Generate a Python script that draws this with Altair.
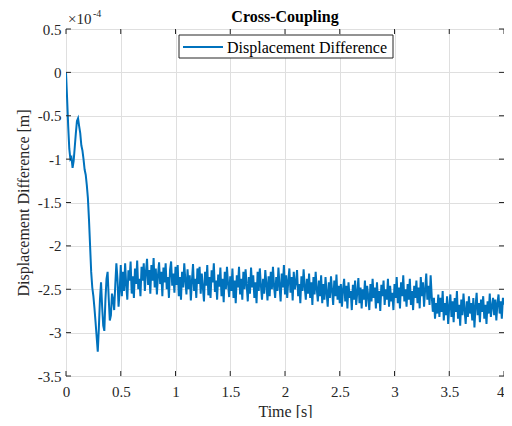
import altair as alt
import pandas as pd

series_name = "Displacement Difference"
x_ticks = [0, 0.5, 1, 1.5, 2, 2.5, 3, 3.5, 4]
y_ticks = [-3.5, -3, -2.5, -2, -1.5, -1, -0.5, 0, 0.5]
dt = 0.01

# displacement difference in units of 1e-4 m, sampled every 0.01 s from t = 0
values = [
    0.00,
    -0.30, -0.62, -0.88, -1.00, -0.98, -1.10, -1.02, -0.86, -0.70, -0.56,
    -0.53, -0.62, -0.70, -0.84, -0.90, -1.00, -1.12, -1.18, -1.30, -1.45,
    -1.70, -2.00, -2.30, -2.48, -2.58, -2.72, -2.88, -3.05, -3.22, -2.95,
    -2.62, -2.42, -2.70, -2.92, -2.98, -2.62, -2.38, -2.30, -2.60, -2.86,
    -2.80, -2.55, -2.62, -2.74, -2.45, -2.20, -2.38, -2.70, -2.52, -2.22,
    -2.58, -2.30, -2.52, -2.20, -2.45, -2.62, -2.28, -2.40, -2.18, -2.55,
    -2.35, -2.60, -2.26, -2.44, -2.17, -2.50, -2.38, -2.58, -2.24, -2.40,
    -2.20, -2.52, -2.30, -2.15, -2.45, -2.28, -2.55, -2.22, -2.40, -2.14,
    -2.48, -2.26, -2.56, -2.34, -2.19, -2.44, -2.30, -2.58, -2.25, -2.42,
    -2.20, -2.50, -2.36, -2.60, -2.28, -2.18, -2.46, -2.32, -2.54, -2.24,
    -2.45, -2.22, -2.58, -2.36, -2.62, -2.30, -2.48, -2.20, -2.40, -2.56,
    -2.27, -2.50, -2.34, -2.63, -2.40, -2.21, -2.52, -2.38, -2.60, -2.26,
    -2.44, -2.24, -2.55, -2.32, -2.48, -2.64, -2.30, -2.46, -2.22, -2.57,
    -2.36, -2.60, -2.28, -2.42, -2.20, -2.53, -2.40, -2.62, -2.33, -2.47,
    -2.25, -2.58, -2.38, -2.65, -2.30, -2.50, -2.24, -2.44, -2.59, -2.35,
    -2.52, -2.26, -2.60, -2.40, -2.66, -2.34, -2.48, -2.24, -2.56, -2.38,
    -2.62, -2.30, -2.50, -2.27, -2.45, -2.64, -2.36, -2.55, -2.25, -2.48,
    -2.34, -2.60, -2.42, -2.66, -2.30, -2.52, -2.26, -2.46, -2.62, -2.38,
    -2.55, -2.28, -2.44, -2.63, -2.35, -2.58, -2.30, -2.50, -2.24, -2.47,
    -2.60, -2.36, -2.52, -2.25, -2.46, -2.64, -2.32, -2.48, -2.22, -2.56,
    -2.34, -2.60, -2.40, -2.26, -2.54, -2.36, -2.63, -2.30, -2.50, -2.42,
    -2.28, -2.58, -2.44, -2.66, -2.35, -2.52, -2.27, -2.47, -2.62, -2.38,
    -2.55, -2.32, -2.60, -2.42, -2.68, -2.36, -2.56, -2.30, -2.50, -2.64,
    -2.40, -2.58, -2.34, -2.66, -2.44, -2.62, -2.36, -2.54, -2.70, -2.42,
    -2.60, -2.35, -2.52, -2.68, -2.40, -2.58, -2.33, -2.62, -2.46, -2.66,
    -2.44, -2.70, -2.50, -2.38, -2.64, -2.46, -2.72, -2.42, -2.60, -2.52,
    -2.74, -2.45, -2.62, -2.40, -2.68, -2.54, -2.37, -2.66, -2.48, -2.72,
    -2.50, -2.62, -2.40, -2.70, -2.46, -2.58, -2.74, -2.44, -2.64, -2.38,
    -2.60, -2.48, -2.72, -2.42, -2.66, -2.52, -2.75, -2.45, -2.58, -2.40,
    -2.68, -2.50, -2.62, -2.38, -2.70, -2.46, -2.64, -2.54, -2.74, -2.44,
    -2.60, -2.36, -2.66, -2.48, -2.72, -2.42, -2.58, -2.34, -2.64, -2.50,
    -2.70, -2.44, -2.62, -2.38, -2.68, -2.52, -2.74, -2.46, -2.60, -2.40,
    -2.66, -2.48, -2.72, -2.36, -2.58, -2.42, -2.70, -2.50, -2.32, -2.62,
    -2.46, -2.68, -2.34, -2.58, -2.76, -2.60, -2.84, -2.66, -2.78, -2.56,
    -2.82, -2.60, -2.76, -2.52, -2.86, -2.66, -2.80, -2.58, -2.90, -2.70,
    -2.56, -2.82, -2.64, -2.88, -2.60, -2.76, -2.52, -2.84, -2.68, -2.92,
    -2.62, -2.80, -2.55, -2.74, -2.90, -2.64, -2.82, -2.58, -2.78, -2.66,
    -2.86, -2.60, -2.94, -2.70, -2.54, -2.80, -2.66, -2.88, -2.62, -2.76,
    -2.58, -2.84, -2.68, -2.90, -2.64, -2.78, -2.55, -2.82, -2.70, -2.60,
    -2.80, -2.62, -2.86, -2.66, -2.56, -2.78, -2.64, -2.84, -2.60, -2.68,
]
time = [round(i * dt, 2) for i in range(len(values))]

df = pd.DataFrame({"time": time, "value": values, "series": series_name})
xt = pd.DataFrame({"t": x_ticks})
yt = pd.DataFrame({"v": y_ticks})
one = pd.DataFrame({"k": [0]})

W, H = 438, 347
FONT = "Liberation Serif"
INK = "#262626"
BLUE = "#0072BD"

xscale = alt.Scale(domain=[0, 4], nice=False, zero=False)
yscale = alt.Scale(domain=[-3.5, 0.5], nice=False, zero=False)

common_axis = dict(
    grid=True, gridColor="#dfdfdf", gridWidth=1, domain=False, ticks=False,
    labelFont=FONT, labelFontSize=15, labelColor=INK, labelOverlap=False,
    labelFlush=False, labelExpr="datum.value + ''",
    titleFont=FONT, titleFontSize=16, titleFontWeight="normal", titleColor=INK,
)
x_axis = alt.Axis(
    values=x_ticks, title="Time [s]", labelPadding=8, titlePadding=4,
    labelAlign={"condition": {"test": "datum.value == 4", "value": "right"}, "value": "center"},
    **common_axis,
)
y_axis = alt.Axis(values=y_ticks, title="Displacement Difference [m]", labelPadding=5, titlePadding=6, **common_axis)

line = alt.Chart(df).mark_line(strokeWidth=2, color=BLUE, clip=True).encode(
    x=alt.X("time:Q", scale=xscale, axis=x_axis),
    y=alt.Y("value:Q", scale=yscale, axis=y_axis),
)

tick_len = 5
x_bottom = alt.Chart(xt).mark_rule(color=INK, strokeWidth=1).encode(
    x=alt.X("t:Q", scale=xscale, axis=x_axis), y=alt.value(H), y2=alt.value(H - tick_len))
x_top = alt.Chart(xt).mark_rule(color=INK, strokeWidth=1).encode(
    x=alt.X("t:Q", scale=xscale, axis=x_axis), y=alt.value(0), y2=alt.value(tick_len))
y_left = alt.Chart(yt).mark_rule(color=INK, strokeWidth=1).encode(
    y=alt.Y("v:Q", scale=yscale, axis=y_axis), x=alt.value(0), x2=alt.value(tick_len))
y_right = alt.Chart(yt).mark_rule(color=INK, strokeWidth=1).encode(
    y=alt.Y("v:Q", scale=yscale, axis=y_axis), x=alt.value(W - tick_len), x2=alt.value(W))

# legend box
leg_box = alt.Chart(one).mark_rect(fill="white", stroke=INK, strokeWidth=1).encode(
    x=alt.value(113), x2=alt.value(327), y=alt.value(6), y2=alt.value(29))
leg_line = alt.Chart(one).mark_rule(color=BLUE, strokeWidth=2).encode(
    x=alt.value(117), x2=alt.value(157), y=alt.value(18))
leg_text = alt.Chart(pd.DataFrame({"s": [series_name]})).mark_text(
    align="left", baseline="middle", font=FONT, fontSize=16, color="#000").encode(
    x=alt.value(161), y=alt.value(18.5), text="s:N")

title = alt.Chart(pd.DataFrame({"s": ["Cross-Coupling"]})).mark_text(
    align="center", baseline="alphabetic", font=FONT, fontSize=16, fontWeight="bold", color="#000").encode(
    x=alt.value(W / 2), y=alt.value(-7), text="s:N")
exp_base = alt.Chart(pd.DataFrame({"s": ["×10"]})).mark_text(
    align="left", baseline="alphabetic", font=FONT, fontSize=15, color=INK).encode(
    x=alt.value(2), y=alt.value(-5), text="s:N")
exp_sup = alt.Chart(pd.DataFrame({"s": ["-4"]})).mark_text(
    align="left", baseline="alphabetic", font=FONT, fontSize=10, color=INK).encode(
    x=alt.value(27), y=alt.value(-12), text="s:N")

chart = alt.layer(
    line, x_bottom, x_top, y_left, y_right, leg_box, leg_line, leg_text, title, exp_base, exp_sup
).properties(
    width=W, height=H, autosize="none",
    padding={"left": 58, "top": 21, "right": 0, "bottom": 42},
    background="white",
).configure_view(stroke=INK, strokeWidth=1)

chart.save("out.html", embed_options={"renderer": "svg", "actions": False})
